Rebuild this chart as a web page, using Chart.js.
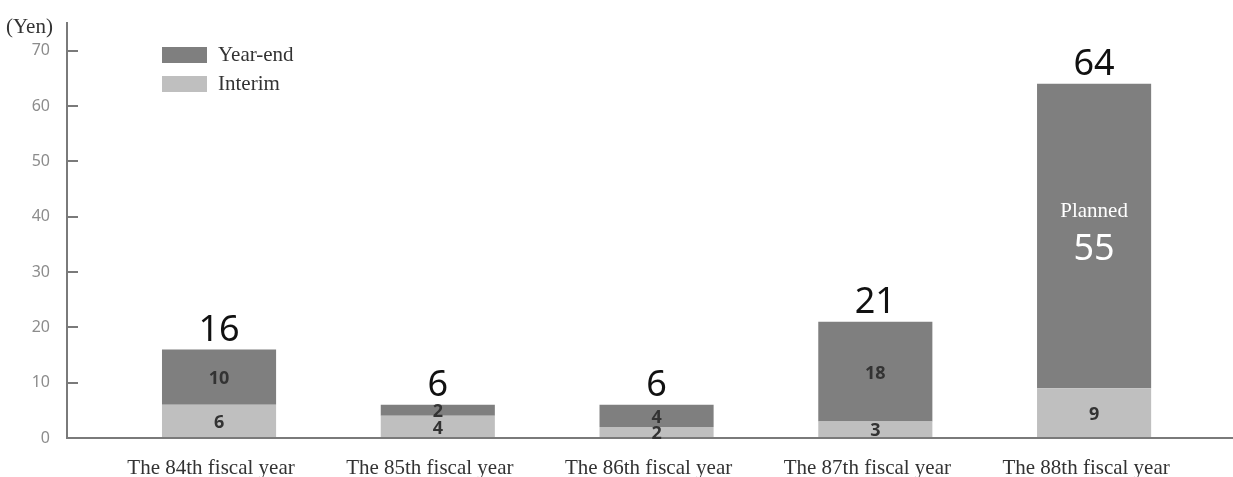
<!DOCTYPE html>
<html>
<head>
<meta charset="utf-8">
<script src="https://cdn.jsdelivr.net/npm/chart.js@4.4.0/dist/chart.umd.min.js"></script>
<style>
  body { margin: 0; background: #fff; }
  #wrap { position: relative; width: 1233px; height: 477px; }
  #unit { position: absolute; left: 6px; top: 14px; font: 21px "Liberation Serif", serif; color: #333; }
  #legend { position: absolute; left: 162px; top: 40px; font: 21px "Liberation Serif", serif; color: #333; }
  #legend div { height: 29px; display: flex; align-items: center; }
  #legend span.box { display: inline-block; width: 45px; height: 16px; margin-right: 11px; }
</style>
</head>
<body>
<div id="wrap">
  <canvas id="mycanvas"></canvas>
  <div id="unit">(Yen)</div>
  <div id="legend"></div>
</div>
<script>
var categories = ['The 84th fiscal year', 'The 85th fiscal year', 'The 86th fiscal year', 'The 87th fiscal year', 'The 88th fiscal year'];
var interim = [6, 4, 2, 3, 9];
var yearEnd = [10, 2, 4, 18, 55];
var yearEndNotes = ['', '', '', '', 'Planned'];
var yTicks = [0, 10, 20, 30, 40, 50, 60, 70];

var totals = categories.map(function(c, i) { return interim[i] + yearEnd[i]; });

var chartdata = {
  datasets: [
    {
      label: 'Interim',
      backgroundColor: '#bfbfbf',
      data: categories.map(function(c, i) { return { x: i, y: interim[i] }; })
    },
    {
      label: 'Year-end',
      backgroundColor: '#7f7f7f',
      data: categories.map(function(c, i) { return { x: i, y: yearEnd[i] }; })
    }
  ]
};

// values inside the bars and totals on top
var barLabels = {
  id: 'barLabels',
  afterDatasetsDraw: function(chart) {
    var ctx = chart.ctx;
    ctx.save();
    ctx.textAlign = 'center';
    ctx.textBaseline = 'middle';
    chart.data.datasets.forEach(function(ds, di) {
      chart.getDatasetMeta(di).data.forEach(function(bar, i) {
        var mid = (bar.y + bar.base) / 2;
        var v = ds.data[i].y;
        if (di === 1 && yearEndNotes[i]) {
          ctx.fillStyle = '#fff';
          ctx.font = '21px "Liberation Serif"';
          ctx.fillText(yearEndNotes[i], bar.x, mid - 25);
          ctx.font = '36px "Noto Sans"';
          ctx.fillText(v, bar.x, mid + 14);
        } else {
          ctx.fillStyle = '#333';
          ctx.font = 'bold 18px "Noto Sans"';
          ctx.fillText(v, bar.x, mid + 2);
        }
      });
    });
    var y = chart.scales.y;
    ctx.fillStyle = '#111';
    ctx.font = '36px "Noto Sans"';
    chart.getDatasetMeta(1).data.forEach(function(bar, i) {
      ctx.fillText(totals[i], bar.x, y.getPixelForValue(totals[i]) - 19);
    });
    ctx.restore();
  }
};

var ctx = document.getElementById('mycanvas');

var barGraph = new Chart(ctx, {
  type: 'bar',
  data: chartdata,
  options: {
    responsive: true,
    maintainAspectRatio: false,
    animation: false,
    layout: { padding: { top: 23, right: 0, left: 0, bottom: 0 } },
    plugins: {
      legend: { display: false },
      tooltip: { enabled: false }
    },
    categoryPercentage: 0.8,
    barPercentage: 0.652,
    scales: {
      x: {
        type: 'linear',
        stacked: true,
        offset: false,
        min: -0.695,
        max: 4.635,
        afterBuildTicks: function(s) {
          s.ticks = categories.map(function(c, i) { return { value: i }; });
        },
        afterFit: function(s) { s.height = 39; s.paddingLeft = 0; s.paddingRight = 0; },
        grid: { display: false, offset: false },
        border: { display: true, color: '#7a7a7a', width: 2 },
        ticks: {
          padding: 10,
          labelOffset: -8,
          color: '#333',
          font: { family: 'Liberation Serif', size: 21 },
          callback: function(v) { return categories[v]; }
        }
      },
      y: {
        stacked: true,
        min: 0,
        max: 75,
        afterBuildTicks: function(s) {
          s.ticks = yTicks.map(function(v) { return { value: v }; });
        },
        afterFit: function(s) { s.width = 67; s.paddingTop = 0; s.paddingBottom = 0; },
        grid: { drawOnChartArea: false, tickLength: -11, color: '#7a7a7a', lineWidth: 2 },
        border: { display: true, color: '#7a7a7a', width: 2 },
        ticks: {
          padding: 28,
          color: '#8c8c8c',
          font: { family: 'Noto Sans', size: 16 }
        }
      }
    }
  },
  plugins: [barLabels]
});

// legend: Year-end first, then Interim
var legend = document.getElementById('legend');
chartdata.datasets.slice().reverse().forEach(function(ds) {
  var row = document.createElement('div');
  row.innerHTML = '<span class="box" style="background:' + ds.backgroundColor + '"></span>' + ds.label;
  legend.appendChild(row);
});
</script>
</body>
</html>
